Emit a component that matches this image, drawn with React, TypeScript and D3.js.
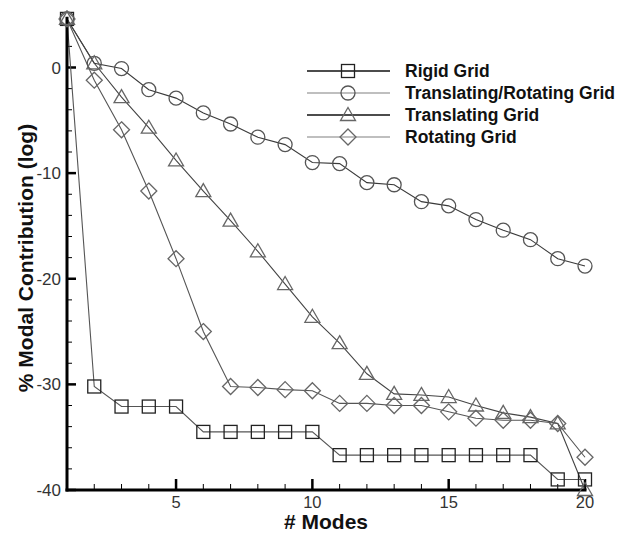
import React from "react";
import * as d3 from "d3";

const modes = [1, 2, 3, 4, 5, 6, 7, 8, 9, 10, 11, 12, 13, 14, 15, 16, 17, 18, 19, 20];
const rigid = [4.6, -30.2, -32.1, -32.1, -32.1, -34.5, -34.5, -34.5, -34.5, -34.5, -36.7, -36.7, -36.7, -36.7, -36.7, -36.7, -36.7, -36.7, -39.0, -39.0];
const transRot = [4.6, 0.4, -0.1, -2.1, -2.9, -4.3, -5.35, -6.6, -7.3, -9.0, -9.1, -10.9, -11.1, -12.7, -13.1, -14.4, -15.4, -16.3, -18.1, -18.8];
const translating = [4.6, 0.4, -2.8, -5.7, -8.8, -11.7, -14.5, -17.4, -20.5, -23.6, -26.1, -29.0, -30.9, -31.0, -31.2, -32.0, -32.7, -33.1, -33.7, -40.0];
const rotating = [4.6, -1.2, -5.9, -11.7, -18.1, -25.0, -30.2, -30.3, -30.5, -30.6, -31.8, -31.8, -32.0, -32.0, -32.6, -33.2, -33.4, -33.4, -33.7, -36.9];
const seriesNames = ["Rigid Grid", "Translating/Rotating Grid", "Translating Grid", "Rotating Grid"];
const xTickLabels = [5, 10, 15, 20];
const yTickLabels = [0, -10, -20, -30, -40];

type Shape = "square" | "circle" | "triangle" | "diamond";

const series: { name: string; values: number[]; shape: Shape; line: string; legendLine: string; marker: string }[] = [
  { name: seriesNames[0], values: rigid, shape: "square", line: "#555", legendLine: "#111", marker: "#222" },
  { name: seriesNames[1], values: transRot, shape: "circle", line: "#3a3a3a", legendLine: "#aaa", marker: "#555" },
  { name: seriesNames[2], values: translating, shape: "triangle", line: "#444", legendLine: "#111", marker: "#666" },
  { name: seriesNames[3], values: rotating, shape: "diamond", line: "#555", legendLine: "#aaa", marker: "#666" },
];

function Marker({ shape, x, y, color }: { shape: Shape; x: number; y: number; color: string }) {
  const common = { fill: "none", stroke: color, strokeWidth: 1.3 };
  if (shape === "square") return <rect x={x - 6.5} y={y - 6.5} width={13} height={13} {...common} />;
  if (shape === "circle") return <circle cx={x} cy={y} r={7} {...common} />;
  if (shape === "triangle")
    return <path d={`M${x},${y - 7.5} L${x + 7.5},${y + 5.5} L${x - 7.5},${y + 5.5} Z`} {...common} />;
  return <path d={`M${x},${y - 8} L${x + 8},${y} L${x},${y + 8} L${x - 8},${y} Z`} {...common} />;
}

export default function App() {
  const W = 621, H = 533;
  const x = d3.scaleLinear().domain([1, 20]).range([67, 585]);
  const y = d3.scaleLinear().domain([-40, 0]).range([490, 67.5]);
  const yTop = y(4.8);
  const line = d3.line<number>().x((_, i) => x(modes[i])).y((v) => y(v));
  const minorX = d3.range(1, 21);
  const minorY = d3.range(-40, 5, 2);
  const font = "Liberation Sans, Arial, sans-serif";
  const legendY = [71, 93, 115, 137];

  return (
    <svg width={W} height={H} style={{ position: "absolute", left: 0, top: 0, background: "#fff" }} fontFamily={font}>
      {/* minor ticks */}
      {minorY.map((v) => (
        <line key={"my" + v} x1={x(1)} x2={x(1) + (v % 10 === 0 ? 9 : 5)} y1={y(v)} y2={y(v)} stroke="#000" strokeWidth={v % 10 === 0 ? 2.5 : 1} />
      ))}
      {minorX.map((v) => (
        <line key={"mx" + v} x1={x(v)} x2={x(v)} y1={y(-40)} y2={y(-40) - (v % 5 === 0 ? 11 : 6)} stroke="#000" strokeWidth={v % 5 === 0 ? 2.5 : 1} />
      ))}
      {/* series lines */}
      {series.map((s) => (
        <path key={s.name + "l"} d={line(s.values) || ""} fill="none" stroke={s.line} strokeWidth={1.1} />
      ))}
      {/* axes */}
      <line x1={x(1)} x2={x(1)} y1={yTop} y2={y(-40) + 1.5} stroke="#000" strokeWidth={3} />
      <line x1={x(1) - 1.5} x2={x(20) + 1.5} y1={y(-40)} y2={y(-40)} stroke="#000" strokeWidth={3} />
      {/* markers */}
      {series.map((s) =>
        s.values.map((v, i) => <Marker key={s.name + i} shape={s.shape} x={x(modes[i])} y={y(v)} color={s.marker} />)
      )}
      {/* tick labels */}
      {yTickLabels.map((v) => (
        <text key={"yl" + v} x={x(1) - 6} y={y(v)} dy="0.36em" textAnchor="end" fontSize={17} fill="#333">
          {v}
        </text>
      ))}
      {xTickLabels.map((v) => (
        <text key={"xl" + v} x={x(v)} y={508} textAnchor="middle" fontSize={16.5} fill="#333">
          {v}
        </text>
      ))}
      {/* axis titles */}
      <text x={326} y={529} textAnchor="middle" fontSize={21} fontWeight="bold" fill="#111">
        # Modes
      </text>
      <text transform={`translate(33,258) rotate(-90)`} textAnchor="middle" fontSize={21} fontWeight="bold" fill="#111">
        % Modal Contribution (log)
      </text>
      {/* legend */}
      {series.map((s, i) => (
        <g key={s.name + "leg"}>
          <line x1={307} x2={390} y1={legendY[i]} y2={legendY[i]} stroke={s.legendLine} strokeWidth={1.3} />
          <Marker shape={s.shape} x={348} y={legendY[i]} color={s.marker} />
          <text x={405} y={legendY[i]} dy="0.36em" fontSize={17.5} fontWeight="bold" fill="#111">
            {s.name}
          </text>
        </g>
      ))}
    </svg>
  );
}
